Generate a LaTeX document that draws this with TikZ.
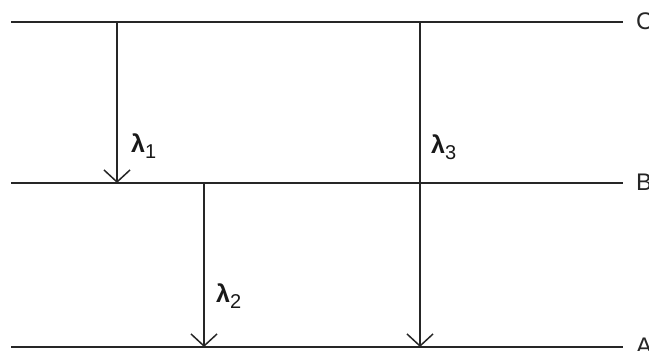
\documentclass[tikz,border=0pt]{standalone}
\usepackage{fontspec}
\setmainfont{Liberation Sans}
\usetikzlibrary{arrows.meta}
\tikzset{
  level/.style={line width=1.7pt, draw=black!85},
  trans/.style={line width=1.6pt, draw=black!85, -{Straight Barb[length=12pt,width=26pt,line width=1.5pt]}},
  lvllabel/.style={anchor=west, inner sep=0pt, text=black!85, font=\fontsize{24}{24}\selectfont},
  lamlabel/.style={anchor=base west, inner sep=0pt, text=black!90, font=\fontsize{25}{25}\selectfont}
}
\newcommand{\lam}[1]{\textbf{λ}\raisebox{-6pt}{\fontsize{20}{20}\selectfont #1}}
\begin{document}
\begin{tikzpicture}[x=1pt,y=-1pt]
\useasboundingbox (0,0) rectangle (649,351);
% levels
\coordinate (Cl) at (11,22);  \coordinate (Cr) at (623,22);
\coordinate (Bl) at (11,183); \coordinate (Br) at (623,183);
\coordinate (Al) at (11,347); \coordinate (Ar) at (623,347);
\draw[level] (Cl) -- (Cr);
\draw[level] (Bl) -- (Br);
\draw[level] (Al) -- (Ar);
\node[lvllabel] (C) at (636,21) {C};
\node[lvllabel] (B) at (636,182) {B};
\node[lvllabel] (A) at (636,346) {A};
% transitions
\coordinate (t1s) at (117,22);  \coordinate (t1e) at (117,183);
\coordinate (t2s) at (204,183); \coordinate (t2e) at (204,347);
\coordinate (t3s) at (420,22);  \coordinate (t3e) at (420,347);
\draw[trans] (t1s) -- (t1e);
\draw[trans] (t2s) -- (t2e);
\draw[trans] (t3s) -- (t3e);
\node[lamlabel] (l1) at (131,152) {\lam{1}};
\node[lamlabel] (l2) at (216,302) {\lam{2}};
\node[lamlabel] (l3) at (431,153) {\lam{3}};
\end{tikzpicture}
\end{document}
